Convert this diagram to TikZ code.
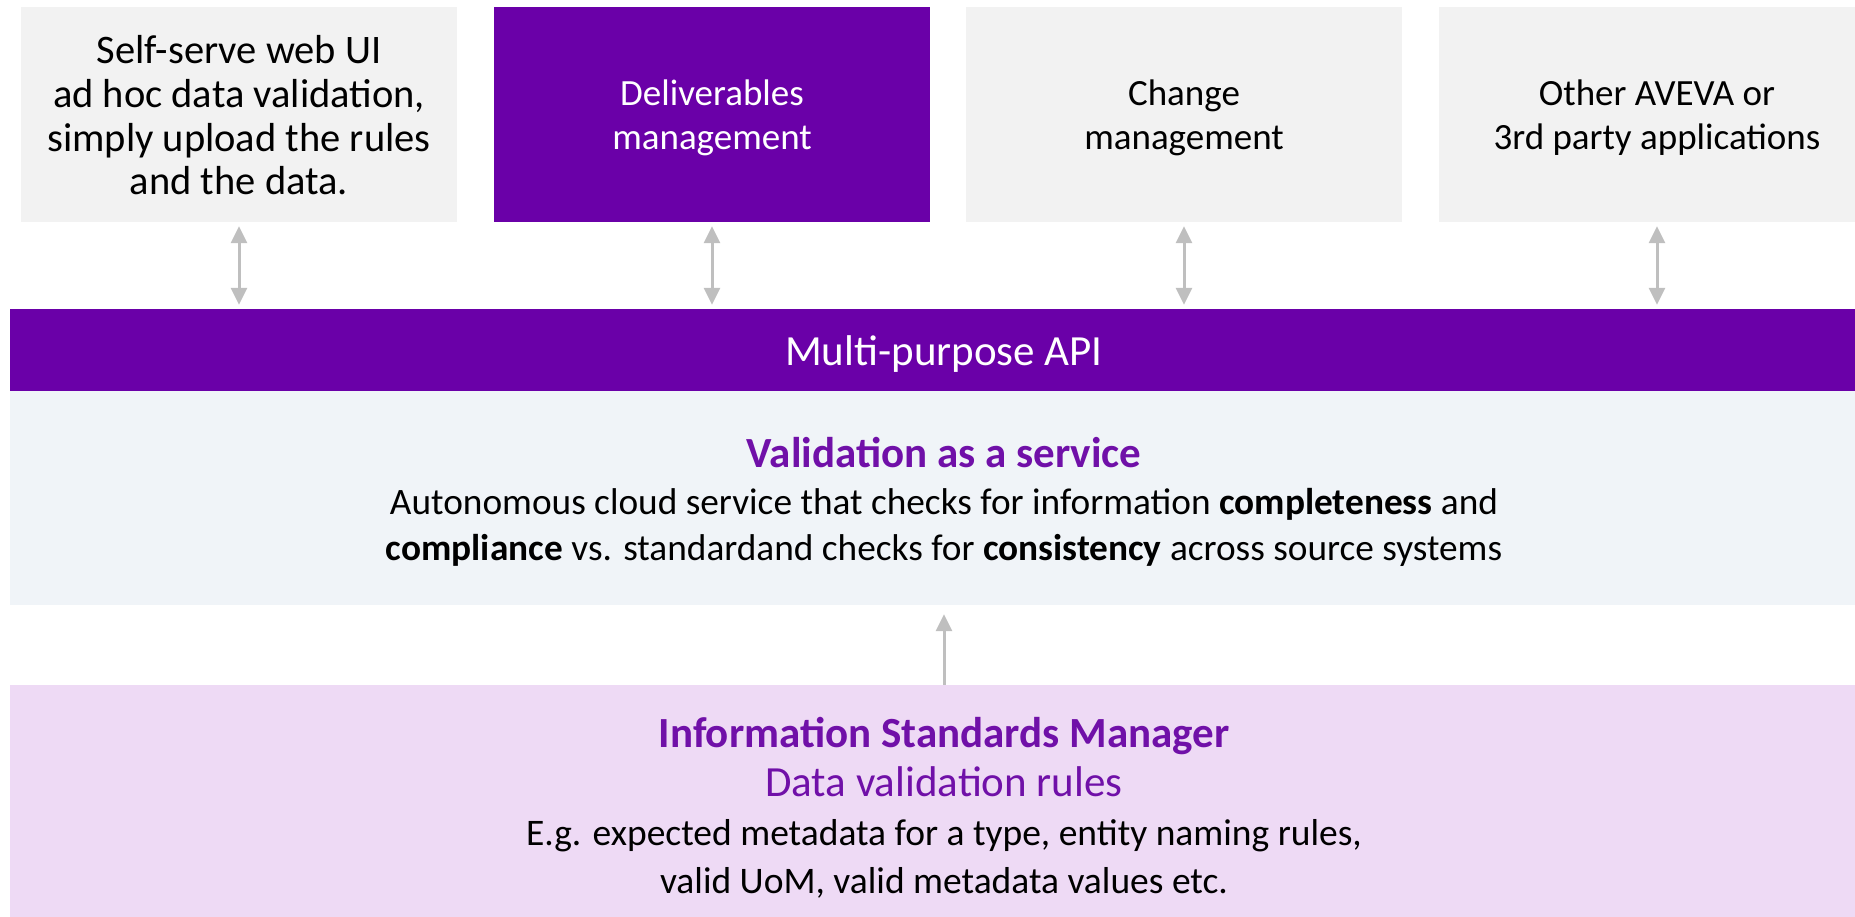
\documentclass[tikz,border=0pt]{standalone}
\usepackage{fontspec}
\setmainfont{Carlito}
\usetikzlibrary{arrows.meta}
\definecolor{avpurple}{HTML}{6A00A8}
\definecolor{avtitle}{HTML}{7010A8}
\definecolor{boxgray}{HTML}{F2F2F2}
\definecolor{valbg}{HTML}{F0F4F8}
\definecolor{ismbg}{HTML}{EEDAF5}
\definecolor{arrgray}{HTML}{BFBFBF}
\tikzset{
  topbox/.style={rectangle, fill=boxgray, draw=none, minimum width=436pt, minimum height=215pt, inner sep=0pt},
  topboxp/.style={topbox, fill=avpurple},
  toptext/.style={inner sep=0pt, align=center, text=black, font=\fontsize{37}{44}\selectfont},
  band/.style={rectangle, draw=none, minimum width=1868pt, inner sep=0pt},
  conn/.style={draw=arrgray, line width=3pt, {Triangle[width=16pt,length=17pt]}-{Triangle[width=16pt,length=17pt]}, shorten <=4pt, shorten >=4pt},
  connup/.style={draw=arrgray, line width=3pt, -{Triangle[width=16pt,length=17pt]}, shorten >=9pt},
  txt/.style={inner sep=0pt, anchor=base},
}
\begin{document}
\begin{tikzpicture}[x=1pt,y=-1pt]
\useasboundingbox (0,0) rectangle (1855,916);
% top boxes
\node[topbox]  (b1) at (239,114.5) {};
\node[topboxp] (b2) at (712,114.5) {};
\node[topbox]  (b3) at (1184,114.5) {};
\node[topbox]  (b4) at (1657,114.5) {};
\node[toptext, font=\fontsize{40.5}{43.7}\selectfont] (b1t) at ([yshift=-1pt]b1.center) {Self-serve web UI\\ad hoc data validation,\\simply upload the rules\\and the data.};
\node[toptext, text=white] (b2t) at ([yshift=-3pt]b2.center) {Deliverables\\management};
\node[toptext] (b3t) at ([yshift=-3pt]b3.center) {Change\\management};
\node[toptext] (b4t) at ([yshift=-3pt]b4.center) {Other AVEVA or\\3rd party applications};
% API band
\node[band, fill=avpurple, minimum height=82pt] (api) at (944,350) {};
\node[txt, text=white, font=\fontsize{43}{48}\selectfont] (apit) at (944,365) {Multi-purpose API};
% validation band
\node[band, fill=valbg, minimum height=214pt] (val) at (944,498) {};
\node[txt, text=avtitle, font=\bfseries\fontsize{43}{48}\selectfont] (valt) at (944,467) {Validation as a service};
\node[txt, font=\fontsize{37.3}{42}\selectfont] (val1) at (944,514) {Autonomous cloud service that checks for information \textbf{completeness} and};
\node[txt, font=\fontsize{37.3}{42}\selectfont] (val2) at (944,560) {\textbf{compliance} vs. standardand checks for \textbf{consistency} across source systems};
% ISM band
\node[band, fill=ismbg, minimum height=245pt] (ism) at (944,807.5) {};
\node[txt, text=avtitle, font=\bfseries\fontsize{43}{48}\selectfont] (ismt) at (944,747) {Information Standards Manager};
\node[txt, text=avtitle, font=\fontsize{43}{48}\selectfont] (isms) at (944,796) {Data validation rules};
\node[txt, font=\fontsize{37.5}{42}\selectfont] (ism1) at (944,845) {E.g. expected metadata for a type, entity naming rules,};
\node[txt, font=\fontsize{37.5}{42}\selectfont] (ism2) at (944,893) {valid UoM, valid metadata values etc.};
% connectors
\draw[conn] (b1.south) -- (b1.south |- api.north);
\draw[conn] (b2.south) -- (b2.south |- api.north);
\draw[conn] (b3.south) -- (b3.south |- api.north);
\draw[conn] (b4.south) -- (b4.south |- api.north);
\draw[connup] (ism.north) -- (val.south);
\end{tikzpicture}
\end{document}
